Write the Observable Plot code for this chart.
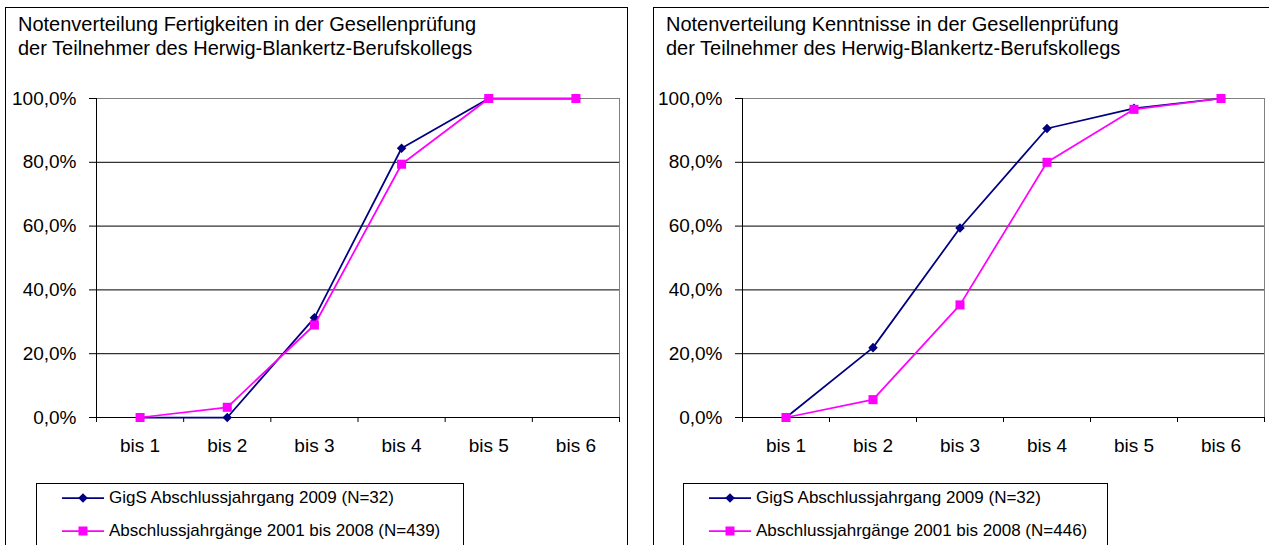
<!DOCTYPE html>
<html><head><meta charset="utf-8">
<script src="https://cdn.jsdelivr.net/npm/d3@7"></script>
<script src="https://cdn.jsdelivr.net/npm/@observablehq/plot@0.6"></script>
<style>
html,body{margin:0;padding:0;background:#fff;}
#root{position:relative;width:1269px;height:545px;overflow:hidden;font-family:"Liberation Sans",Arial,sans-serif;color:#000;background:#fff;}
.panel{position:absolute;border:1px solid #000;box-sizing:border-box;background:#fff;}
.title{position:absolute;font-size:20px;line-height:24px;white-space:nowrap;}
.legend{position:absolute;border:1px solid #000;box-sizing:border-box;background:#fff;}
.ltext{position:absolute;font-size:17px;line-height:20px;white-space:nowrap;}
.lsym{position:absolute;}
.plot{position:absolute;top:70px;}
</style></head><body><div id="root"></div>
<script>
// ---- data ----
const categories = ["bis 1", "bis 2", "bis 3", "bis 4", "bis 5", "bis 6"];
const yTicks = [0, 20, 40, 60, 80, 100];
const seriesGigS = "GigS Abschlussjahrgang 2009 (N=32)";
const seriesAllFert = "Abschlussjahrgänge 2001 bis 2008 (N=439)";
const seriesAllKennt = "Abschlussjahrgänge 2001 bis 2008 (N=446)";
const titleFert = ["Notenverteilung Fertigkeiten in der Gesellenprüfung", "der Teilnehmer des Herwig-Blankertz-Berufskollegs"];
const titleKennt = ["Notenverteilung Kenntnisse in der Gesellenprüfung", "der Teilnehmer des Herwig-Blankertz-Berufskollegs"];
const fertGigS = [0, 0, 31.25, 84.4, 100, 100];
const fertAll = [0, 3.2, 29.0, 79.4, 100, 100];
const kenntGigS = [0, 21.9, 59.4, 90.6, 96.9, 100];
const kenntAll = [0, 5.6, 35.3, 80.0, 96.6, 100];
const navy = "#000080";
const magenta = "#ff00ff";

const root = document.getElementById("root");

function rows(name, values) {
  return values.map((v, i) => ({series: name, x: i + 1, cat: categories[i], y: v}));
}

function makePanel(p) {
  const panel = document.createElement("div");
  panel.className = "panel";
  Object.assign(panel.style, {left: p.boxLeft + "px", top: "7px", width: p.boxWidth + "px", height: "600px"});
  root.appendChild(panel);

  const title = document.createElement("div");
  title.className = "title";
  title.style.left = p.titleX + "px";
  title.style.top = "12px";
  title.innerHTML = p.title.join("<br>");
  root.appendChild(title);

  const d1 = rows(p.names[0], p.values[0]);
  const d2 = rows(p.names[1], p.values[1]);
  const chart = Plot.plot({
    width: p.svgWidth, height: 400,
    marginLeft: p.ml, marginRight: p.mr, marginTop: 28, marginBottom: 53,
    style: {fontFamily: "Liberation Sans, Arial, sans-serif", fontSize: "19px", color: "#000", background: "transparent", overflow: "visible"},
    x: {type: "linear", domain: [0.5, 6.5]},
    y: {type: "linear", domain: [0, 100]},
    marks: [
      Plot.ruleY([20, 40, 60, 80], {stroke: "#000"}),
      Plot.ruleY([100], {stroke: "#808080"}),
      Plot.ruleX([6.5], {stroke: "#808080"}),
      Plot.ruleY([0], {stroke: "#000"}),
      Plot.ruleX([0.5], {stroke: "#000"}),
      Plot.axisY(yTicks, {tickFormat: d => d.toFixed(1).replace(".", ",") + "%", tickSize: 7, tickPadding: 13, label: null, fontSize: 19}),
      Plot.axisX([0.5, 1.5, 2.5, 3.5, 4.5, 5.5, 6.5], {tickFormat: () => "", tickSize: 5, label: null}),
      Plot.axisX([1, 2, 3, 4, 5, 6], {tickFormat: d => categories[d - 1], tickSize: 0, tickPadding: 21, label: null, fontSize: 19}),
      Plot.line(d1, {x: "x", y: "y", stroke: navy, strokeWidth: 1.75}),
      Plot.dot(d1, {x: "x", y: "y", symbol: "diamond2", r: 4.3, fill: navy}),
      Plot.line(d2, {x: "x", y: "y", stroke: magenta, strokeWidth: 1.75}),
      Plot.dot(d2, {x: "x", y: "y", symbol: "square", r: 5.1, fill: magenta})
    ]
  });
  chart.classList.add("plot");
  chart.style.left = p.svgLeft + "px";
  root.appendChild(chart);

  const legend = document.createElement("div");
  legend.className = "legend";
  Object.assign(legend.style, {left: p.legLeft + "px", top: "483px", width: p.legWidth + "px", height: "100px"});
  root.appendChild(legend);

  const syms = [
    {color: navy, shape: "diamond"},
    {color: magenta, shape: "square"}
  ];
  [498, 531].forEach((cy, i) => {
    const s = syms[i];
    const svgNS = "http://www.w3.org/2000/svg";
    const svg = document.createElementNS(svgNS, "svg");
    svg.setAttribute("width", 44); svg.setAttribute("height", 14);
    svg.setAttribute("class", "lsym");
    svg.style.left = (p.legLeft + 26) + "px";
    svg.style.top = (cy - 7) + "px";
    const ln = document.createElementNS(svgNS, "line");
    ln.setAttribute("x1", 0); ln.setAttribute("x2", 42); ln.setAttribute("y1", 7); ln.setAttribute("y2", 7);
    ln.setAttribute("stroke", s.color); ln.setAttribute("stroke-width", 1.75);
    svg.appendChild(ln);
    const m = document.createElementNS(svgNS, "path");
    m.setAttribute("d", s.shape === "diamond" ? "M21,2.2L25.8,7L21,11.8L16.2,7Z" : "M16.5,2.5H25.5V11.5H16.5Z");
    m.setAttribute("fill", s.color);
    svg.appendChild(m);
    root.appendChild(svg);
    const t = document.createElement("div");
    t.className = "ltext";
    t.style.left = (p.legLeft + 73) + "px";
    t.style.top = (cy - 10) + "px";
    t.textContent = p.names[i];
    root.appendChild(t);
  });
}

makePanel({boxLeft: 5, boxWidth: 623, titleX: 18, title: titleFert, svgLeft: 0, svgWidth: 627, ml: 96, mr: 8,
  legLeft: 36, legWidth: 428, names: [seriesGigS, seriesAllFert], values: [fertGigS, fertAll]});
makePanel({boxLeft: 653, boxWidth: 700, titleX: 666, title: titleKennt, svgLeft: 640, svgWidth: 629, ml: 102, mr: 5,
  legLeft: 683, legWidth: 425, names: [seriesGigS, seriesAllKennt], values: [kenntGigS, kenntAll]});
</script>
</body></html>
